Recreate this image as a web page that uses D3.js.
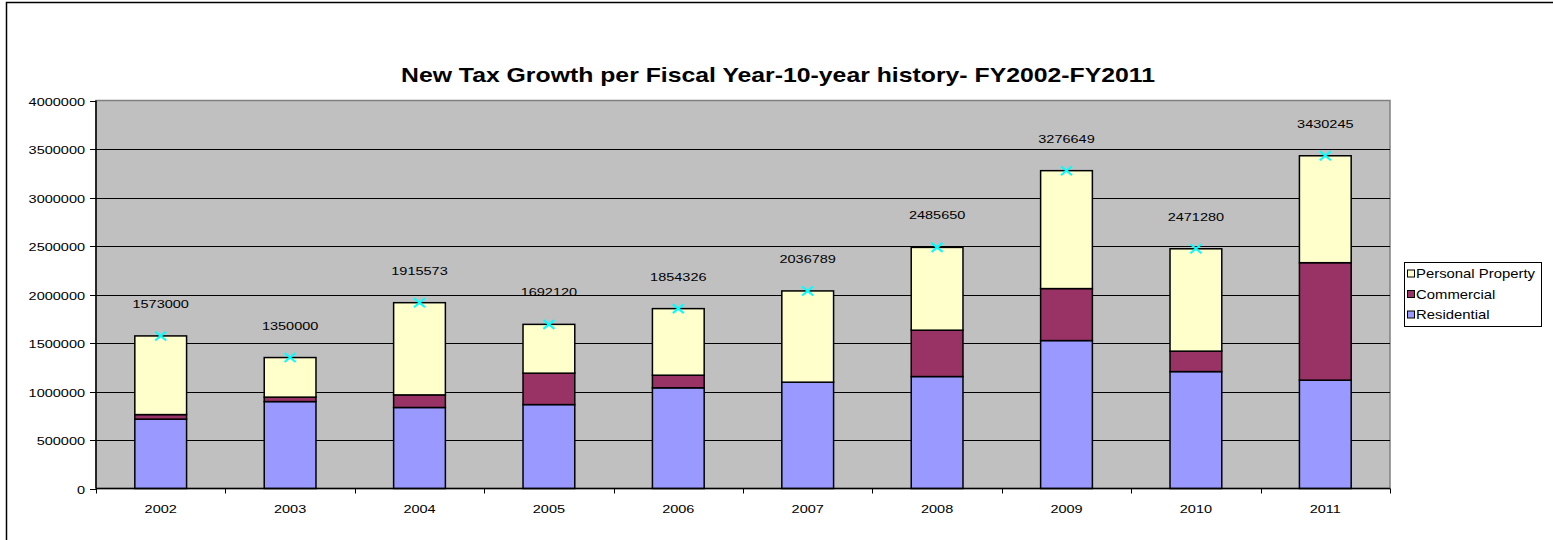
<!DOCTYPE html>
<html>
<head>
<meta charset="utf-8">
<script src="https://cdn.jsdelivr.net/npm/d3@7"></script>
<style>
  body { margin: 0; background: #fff; }
  text { font-family: "Liberation Sans", Arial, sans-serif; fill: #000; }
</style>
</head>
<body>
<div id="drawing"></div>
<script>
// data
var years = ["2002", "2003", "2004", "2005", "2006", "2007", "2008", "2009", "2010", "2011"];
var residential = [715000, 896000, 835000, 865000, 1038000, 1096000, 1154000, 1525000, 1205000, 1117000];
var commercial = [47000, 46000, 130000, 324000, 130000, 0, 478000, 536000, 211000, 1211000];
var personal = [811000, 408000, 950573, 503120, 686326, 940789, 853650, 1215649, 1055280, 1102245];
var totals = [1573000, 1350000, 1915573, 1692120, 1854326, 2036789, 2485650, 3276649, 2471280, 3430245];
var yTicks = [0, 500000, 1000000, 1500000, 2000000, 2500000, 3000000, 3500000, 4000000];
var seriesNames = ["Personal Property", "Commercial", "Residential"];

var width = 1553;
var height = 540;
var plot = {left: 96, right: 1390, top: 100.5, bottom: 488.5};
var sx = 1.24; // the picture is stretched sideways, text too
var colors = {residential: "#9999FF", commercial: "#993366", personal: "#FFFFCC"};

var svg = d3.select("#drawing").append("svg")
  .attr("width", width)
  .attr("height", height);

// outer chart border (runs off the right and bottom)
svg.append("rect")
  .attr("x", 6.5).attr("y", 2.5)
  .attr("width", width + 20).attr("height", height + 20)
  .style("fill", "#fff")
  .style("stroke", "#000")
  .style("stroke-width", 1.5);

function stretchedText(g, x, y, str, size, anchor, weight) {
  return g.append("text")
    .attr("transform", `translate(${x},${y}) scale(${sx},1)`)
    .attr("text-anchor", anchor || "start")
    .style("font-size", size + "px")
    .style("font-weight", weight || "normal")
    .text(str);
}

stretchedText(svg, 778, 82, "New Tax Growth per Fiscal Year-10-year history- FY2002-FY2011", 20, "middle", "bold");

var xScale = d3.scaleBand().domain(years).range([plot.left, plot.right]).padding(0);
var yScale = d3.scaleLinear().domain([0, 4000000]).range([plot.bottom, plot.top]);
var barW = xScale.bandwidth() * 0.4;

// plot background
svg.append("rect")
  .attr("x", plot.left).attr("y", plot.top)
  .attr("width", plot.right - plot.left).attr("height", plot.bottom - plot.top)
  .style("fill", "#C0C0C0")
  .style("stroke", "#808080")
  .style("stroke-width", 1.5);

// gridlines
svg.append("g").selectAll("line")
  .data(yTicks.filter(d => d > 0 && d < 4000000))
  .join("line")
  .attr("x1", plot.left).attr("x2", plot.right)
  .attr("y1", d => Math.round(yScale(d)) + 0.5)
  .attr("y2", d => Math.round(yScale(d)) + 0.5)
  .style("stroke", "#000")
  .style("stroke-width", 1);

// stacked bars
var rows = years.map((y, i) => ({
  year: y, residential: residential[i], commercial: commercial[i], personal: personal[i]
}));
var stacked = d3.stack().keys(["residential", "commercial", "personal"])(rows);

svg.append("g").selectAll("g")
  .data(stacked)
  .join("g")
  .style("fill", d => colors[d.key])
  .selectAll("rect")
  .data(d => d.filter(s => s[1] > s[0]))
  .join("rect")
  .attr("x", d => xScale(d.data.year) + (xScale.bandwidth() - barW) / 2)
  .attr("y", d => yScale(d[1]))
  .attr("width", barW)
  .attr("height", d => yScale(d[0]) - yScale(d[1]))
  .style("stroke", "#000")
  .style("stroke-width", 1.5);

// axes
var yAxis = svg.append("g");
yAxis.append("line")
  .attr("x1", plot.left).attr("x2", plot.left)
  .attr("y1", plot.top).attr("y2", plot.bottom)
  .style("stroke", "#000").style("stroke-width", 1.5);
yTicks.forEach(v => {
  var ty = Math.round(yScale(v)) + 0.5;
  yAxis.append("line")
    .attr("x1", plot.left - 6).attr("x2", plot.left)
    .attr("y1", ty).attr("y2", ty)
    .style("stroke", "#000");
  stretchedText(yAxis, plot.left - 11, ty + 4, String(v), 11.7, "end");
});

var xAxis = svg.append("g");
xAxis.append("line")
  .attr("x1", plot.left).attr("x2", plot.right)
  .attr("y1", plot.bottom).attr("y2", plot.bottom)
  .style("stroke", "#000").style("stroke-width", 1.5);
years.concat(["end"]).forEach((y, i) => {
  var tx = Math.round(plot.left + i * xScale.step()) + 0.5;
  xAxis.append("line")
    .attr("x1", tx).attr("x2", tx)
    .attr("y1", plot.bottom).attr("y2", plot.bottom + 5)
    .style("stroke", "#000");
});
years.forEach(y => {
  stretchedText(xAxis, xScale(y) + xScale.bandwidth() / 2, 512.5, y, 11.7, "middle");
});

// total markers and labels
var totalG = svg.append("g");
totalG.selectAll("path")
  .data(totals)
  .join("path")
  .attr("transform", (d, i) => `translate(${xScale(years[i]) + xScale.bandwidth() / 2},${yScale(d)})`)
  .attr("d", "M-5.5,-4.5L5.5,4.5M-5.5,4.5L5.5,-4.5")
  .style("stroke", "#00FFFF")
  .style("stroke-width", 2)
  .style("fill", "none");
totals.forEach((d, i) => {
  stretchedText(totalG, xScale(years[i]) + xScale.bandwidth() / 2, yScale(d) - 28, String(d), 11.7, "middle");
});

// legend
var legend = svg.append("g");
legend.append("rect")
  .attr("x", 1404.5).attr("y", 262.5)
  .attr("width", 137).attr("height", 64)
  .style("fill", "#fff")
  .style("stroke", "#000");
var legendColors = [colors.personal, colors.commercial, colors.residential];
seriesNames.forEach((name, i) => {
  var ly = 273.5 + i * 20.5;
  legend.append("rect")
    .attr("x", 1407.5).attr("y", ly - 3.5)
    .attr("width", 7).attr("height", 7)
    .style("fill", legendColors[i])
    .style("stroke", "#000");
  stretchedText(legend, 1416, ly + 4.5, name, 12, "start");
});
</script>
</body>
</html>
